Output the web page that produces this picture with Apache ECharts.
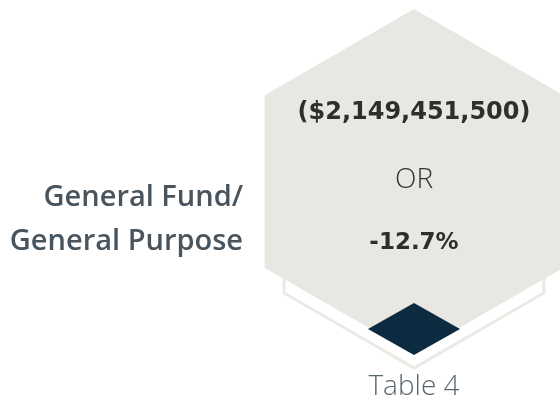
<!DOCTYPE html>
<html>
<head>
<meta charset="utf-8">
<script src="https://cdn.jsdelivr.net/npm/echarts@6/dist/echarts.min.js"></script>
<style>
  html, body { margin: 0; padding: 0; background: #fff; }
  #chart { width: 560px; height: 404px; }
</style>
</head>
<body>
<div id="chart"></div>
<script>
// values shown in the tile
var fundLabel = ['General Fund/', 'General Purpose'];
var changeAmount = ['($2,149,451,500)'];
var changePct = ['-12.7%'];
var joinWord = ['OR'];
var tableName = ['Table 4'];

var chartDom = document.getElementById('chart');
var myChart = echarts.init(chartDom);

// pointy-top hexagon around cx, cy with radius r
function hexPoints(cx, cy, r) {
  var pts = [];
  for (var i = 0; i < 6; i++) {
    var a = Math.PI / 180 * (60 * i - 90);
    pts.push([cx + r * Math.cos(a), cy + r * Math.sin(a)]);
  }
  return pts;
}

var cx = 414;

var option = {
  animation: false,
  backgroundColor: '#ffffff',
  graphic: [
    // back outline hexagon
    {
      type: 'polygon',
      shape: { points: hexPoints(cx, 218, 150) },
      style: { fill: 'none', stroke: '#ebe9e4', lineWidth: 3 },
      z: 1
    },
    {
      type: 'polygon',
      shape: { points: hexPoints(cx, 181.5, 172.5) },
      style: { fill: '#e8e7e2' },
      z: 2
    },
    // navy diamond at the bottom tip
    {
      type: 'polygon',
      shape: { points: [[cx, 303], [cx + 46, 329], [cx, 355], [cx - 46, 329]] },
      style: { fill: '#0c2a40' },
      z: 3
    },
    {
      type: 'text',
      x: cx, y: 113,
      style: {
        text: changeAmount[0], align: 'center', verticalAlign: 'middle',
        font: 'bold 24px "DejaVu Sans"', fill: '#2e2e2e'
      },
      z: 4
    },
    {
      type: 'text',
      x: cx, y: 180,
      style: {
        text: joinWord[0], align: 'center', verticalAlign: 'middle',
        font: '300 28px "Open Sans"', fill: '#333333'
      },
      z: 4
    },
    {
      type: 'text',
      x: cx, y: 243,
      style: {
        text: changePct[0], align: 'center', verticalAlign: 'middle',
        font: 'bold 23px "DejaVu Sans"', fill: '#2e2e2e'
      },
      z: 4
    },
    {
      type: 'text',
      x: cx, y: 387,
      style: {
        text: tableName[0], align: 'center', verticalAlign: 'middle',
        font: '300 28px "Open Sans"', fill: '#5b6770'
      },
      z: 4
    },
    {
      type: 'text',
      x: 243, y: 198,
      style: {
        text: fundLabel[0], align: 'right', verticalAlign: 'middle',
        font: '600 29px "Open Sans"', fill: '#48545e'
      },
      z: 4
    },
    {
      type: 'text',
      x: 243, y: 242,
      style: {
        text: fundLabel[1], align: 'right', verticalAlign: 'middle',
        font: '600 29px "Open Sans"', fill: '#48545e'
      },
      z: 4
    }
  ]
};

myChart.setOption(option);
</script>
</body>
</html>
